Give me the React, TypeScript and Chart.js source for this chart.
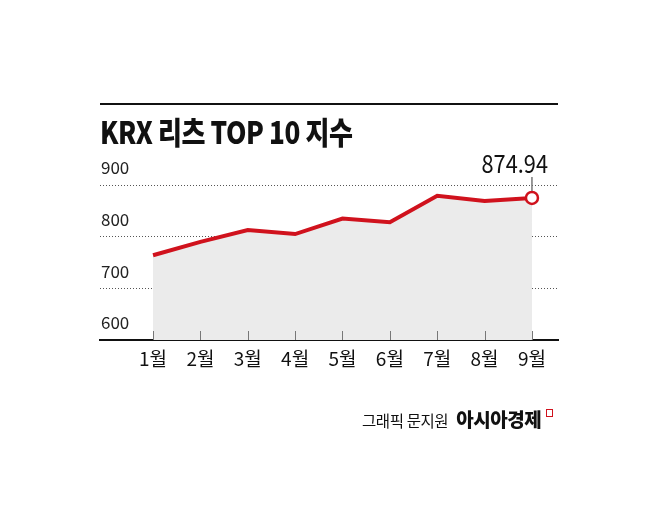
import React, { useEffect, useRef } from "react";
import { Chart, registerables } from "chart.js";

Chart.register(...registerables);

const months = ["1월", "2월", "3월", "4월", "5월", "6월", "7월", "8월", "9월"];
const indexValues = [764, 790, 813, 805, 835, 828, 879, 869, 874.94];
const yTicks = [600, 700, 800, 900];
const lastLabel = "874.94";
const title = "KRX 리츠 TOP 10 지수";
const creditLeft = "그래픽 문지원";
const creditRight = "아시아경제";

const RED = "#d0121d";
const FONT = "'Noto Sans CJK KR', sans-serif";

export default function App() {
  const ref = useRef<HTMLCanvasElement | null>(null);

  useEffect(() => {
    if (!ref.current) return;
    const overlay = {
      id: "overlay",
      afterDatasetsDraw(chart: any) {
        const ctx = chart.ctx;
        const x = chart.scales.x;
        const area = chart.chartArea;
        ctx.save();
        // tick marks above the axis
        ctx.strokeStyle = "#777";
        ctx.lineWidth = 1;
        months.forEach((_, i) => {
          const px = Math.round(x.getPixelForValue(i)) + 0.5;
          ctx.beginPath();
          ctx.moveTo(px, area.bottom - 9);
          ctx.lineTo(px, area.bottom);
          ctx.stroke();
        });
        // last value label
        const meta = chart.getDatasetMeta(0);
        const pt = meta.data[meta.data.length - 1];
        ctx.strokeStyle = "#777";
        ctx.lineWidth = 1.5;
        ctx.beginPath();
        ctx.moveTo(pt.x, pt.y - 7);
        ctx.lineTo(pt.x, pt.y - 21);
        ctx.stroke();
        ctx.fillStyle = "#111";
        ctx.font = `25px ${FONT}`;
        ctx.textAlign = "right";
        ctx.textBaseline = "alphabetic";
        ctx.translate(pt.x + 16, pt.y - 25);
        ctx.scale(0.87, 1);
        ctx.fillText(lastLabel, 0, 0);
        ctx.restore();
      },
    };

    const chart = new Chart(ref.current, {
      type: "line",
      data: {
        datasets: [
          {
            data: indexValues.map((v, i) => ({ x: i, y: v })),
            borderColor: RED,
            borderWidth: 4,
            backgroundColor: "#ebebeb",
            fill: "start",
            tension: 0,
            pointRadius: indexValues.map((_, i) => (i === indexValues.length - 1 ? 6 : 0)),
            pointBackgroundColor: "#ffffff",
            pointBorderColor: RED,
            pointBorderWidth: 2.5,
          },
        ],
      },
      options: {
        animation: false,
        responsive: false,
        maintainAspectRatio: false,
        layout: { padding: { top: 185, left: 100, right: 100, bottom: 146 } },
        plugins: { legend: { display: false }, tooltip: { enabled: false }, title: { display: false } },
        scales: {
          x: {
            type: "linear",
            min: -1.12,
            max: 8.55,
            afterFit: (s: any) => {
              s.height = 40;
            },
            afterBuildTicks: (s: any) => {
              s.ticks = months.map((_, i) => ({ value: i }));
            },
            grid: { display: true, drawOnChartArea: false, drawTicks: false },
            border: { display: true, color: "#111", width: 2 },
            ticks: {
              autoSkip: false,
              maxRotation: 0,
              padding: 7,
              color: "#111",
              font: { family: FONT, size: 19 },
              callback: (v: any) => {
                const n = Math.round(Number(v));
                return n >= 0 && n < months.length ? months[n] : "";
              },
            },
          },
          y: {
            min: yTicks[0],
            max: yTicks[yTicks.length - 1],
            afterFit: (s: any) => {
              s.width = 0;
            },
            afterBuildTicks: (s: any) => {
              s.ticks = yTicks.map((v) => ({ value: v }));
            },
            grid: { color: "#555", lineWidth: 1, drawTicks: false },
            border: { display: false, dash: [1, 2] },
            ticks: {
              mirror: true,
              padding: 1,
              labelOffset: -17,
              color: "#222",
              font: { family: FONT, size: 17 },
            },
          },
        },
      },
      plugins: [overlay],
    });
    return () => chart.destroy();
  }, []);

  return (
    <div style={{ position: "absolute", left: 0, top: 0, width: 658, height: 526, background: "#fff", overflow: "hidden" }}>
      <canvas ref={ref} width={658} height={526} style={{ position: "absolute", left: 0, top: 0, width: 658, height: 526 }} />
      <div style={{ position: "absolute", left: 100, top: 103, width: 458, height: 2, background: "#111" }} />
      <div
        style={{
          position: "absolute",
          left: 100,
          top: 113,
          fontFamily: FONT,
          fontWeight: 900,
          fontSize: 31,
          lineHeight: "36px",
          color: "#111",
          whiteSpace: "nowrap",
          transform: "scaleX(0.84)",
          transformOrigin: "left top",
          letterSpacing: "-0.5px",
        }}
      >
        {title}
      </div>
      <div
        style={{
          position: "absolute",
          left: 362,
          top: 407,
          whiteSpace: "nowrap",
          fontFamily: FONT,
          color: "#111",
          lineHeight: "24px",
          display: "flex",
          alignItems: "baseline",
        }}
      >
        <span style={{ fontSize: 15.5, letterSpacing: "-0.4px" }}>{creditLeft}</span>
        <span style={{ fontSize: 19, fontWeight: 900, marginLeft: 8, letterSpacing: "-0.5px" }}>{creditRight}</span>
        <span
          style={{
            display: "inline-block",
            width: 5,
            height: 6,
            border: `1.5px solid ${RED}`,
            marginLeft: 5,
            position: "relative",
            top: -10,
          }}
        />
      </div>
    </div>
  );
}
